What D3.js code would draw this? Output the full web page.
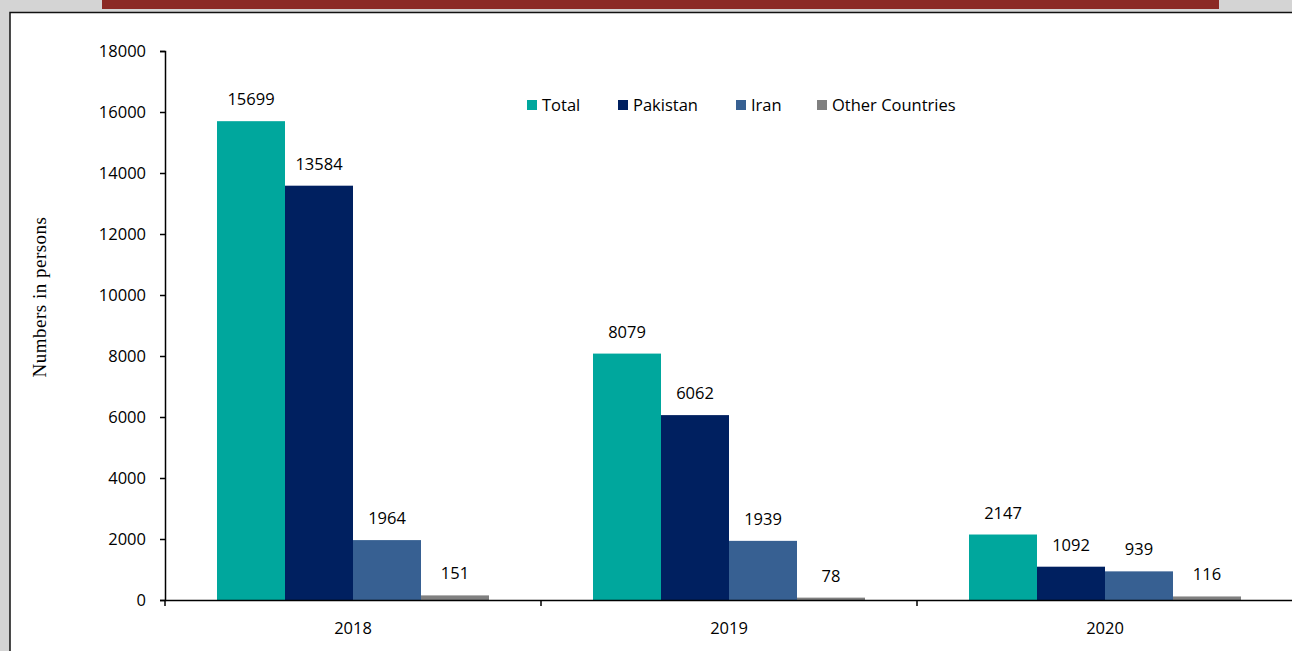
<!DOCTYPE html>
<html>
<head>
<meta charset="utf-8">
<script src="https://cdnjs.cloudflare.com/ajax/libs/d3/7.8.5/d3.min.js"></script>
<style>
  html, body { margin: 0; padding: 0; background: #d4d4d4; }
  svg { display: block; }
  .num { font-family: "Open Sans", "Noto Sans", sans-serif; font-size: 16.5px; fill: #000; }
</style>
</head>
<body>
<div class="app"></div>
<script>
// Chart values.
var years = ["2018", "2019", "2020"];
var seriesNames = ["Total", "Pakistan", "Iran", "Other Countries"];
var seriesColors = ["#00a79d", "#002060", "#376092", "#808080"];
var values = [
  [15699, 13584, 1964, 151],  // 2018
  [8079, 6062, 1939, 78],     // 2019
  [2147, 1092, 939, 116]      // 2020
];
var yTicks = [0, 2000, 4000, 6000, 8000, 10000, 12000, 14000, 16000, 18000];

var W = 1292, H = 651;
var plot = {left: 165, right: 1293, top: 51, bottom: 600};

var svg = d3.select(".app").append("svg")
    .attr("width", W)
    .attr("height", H);

// Frame: red strip on top, white panel with black border.
svg.append("rect")
    .attr("x", 102).attr("y", 0).attr("width", 1117).attr("height", 9)
    .attr("fill", "#8b2a25");
svg.append("rect")
    .attr("x", 10).attr("y", 12.5).attr("width", W + 10).attr("height", H)
    .attr("fill", "#fff")
    .attr("stroke", "#111").attr("stroke-width", 1.5);

// Scales
var x = d3.scaleBand().domain(years).range([plot.left, plot.right]);
var xs = d3.scaleBand().domain(seriesNames).range([52, x.bandwidth() - 52]);
var y = d3.scaleLinear().domain([0, 18000]).range([plot.bottom, plot.top]);

// Bars
var groups = svg.append("g").selectAll("g")
    .data(values)
    .enter()
    .append("g")
    .attr("transform", function(d, i){ return "translate(" + x(years[i]) + ",0)"; });

groups.selectAll("rect")
    .data(function(d){ return d; })
    .enter()
    .append("rect")
    .attr("x", function(d, j){ return xs(seriesNames[j]); })
    .attr("y", function(d){ return y(d); })
    .attr("width", xs.bandwidth())
    .attr("height", function(d){ return y(0) - y(d); })
    .attr("fill", function(d, j){ return seriesColors[j]; });

groups.selectAll("text")
    .data(function(d){ return d; })
    .enter()
    .append("text")
    .attr("class", "num")
    .attr("text-anchor", "middle")
    .attr("x", function(d, j){ return xs(seriesNames[j]) + xs.bandwidth() / 2; })
    .attr("y", function(d){ return y(d) - 16; })
    .text(function(d){ return d; });

// Y axis
var yAxis = d3.axisLeft(y).tickValues(yTicks).tickSize(5).tickPadding(14).tickFormat(d3.format("d"));
var gy = svg.append("g")
    .attr("transform", "translate(" + plot.left + ",0)")
    .call(yAxis);
gy.select(".domain").attr("stroke", "#000").attr("stroke-width", 1.5);
gy.selectAll(".tick line").attr("stroke", "#000").attr("stroke-width", 1.5);
gy.selectAll(".tick text").attr("class", "num").attr("fill", "#000").style("font-size", "16.5px");

// X axis
var xAxis = d3.axisBottom(x).tickSize(0).tickPadding(22);
var gx = svg.append("g")
    .attr("transform", "translate(0," + plot.bottom + ")")
    .call(xAxis);
gx.select(".domain").attr("stroke", "#000").attr("stroke-width", 1.5);
gx.selectAll(".tick text").attr("class", "num").attr("fill", "#000").style("font-size", "16.5px");
gx.selectAll(".sep")
    .data(years)
    .enter()
    .append("line")
    .attr("x1", function(d){ return x(d); })
    .attr("x2", function(d){ return x(d); })
    .attr("y1", 0).attr("y2", 6)
    .attr("stroke", "#000").attr("stroke-width", 1.5);

// Y axis title
svg.append("text")
    .attr("transform", "translate(46,297) rotate(-90)")
    .attr("text-anchor", "middle")
    .style("font-family", "'Liberation Serif', 'Times New Roman', serif")
    .style("font-size", "19px")
    .style("letter-spacing", "0.5px")
    .text("Numbers in persons");

// Legend
var legendX = [527, 618, 736, 817];
var legend = svg.append("g").selectAll("g")
    .data(seriesNames)
    .enter()
    .append("g")
    .attr("transform", function(d, i){ return "translate(" + legendX[i] + ",100)"; });
legend.append("rect")
    .attr("width", 10).attr("height", 10)
    .attr("fill", function(d, i){ return seriesColors[i]; });
legend.append("text")
    .attr("class", "num")
    .attr("x", 15).attr("y", 10.5)
    .text(function(d){ return d; });
</script>
</body>
</html>
